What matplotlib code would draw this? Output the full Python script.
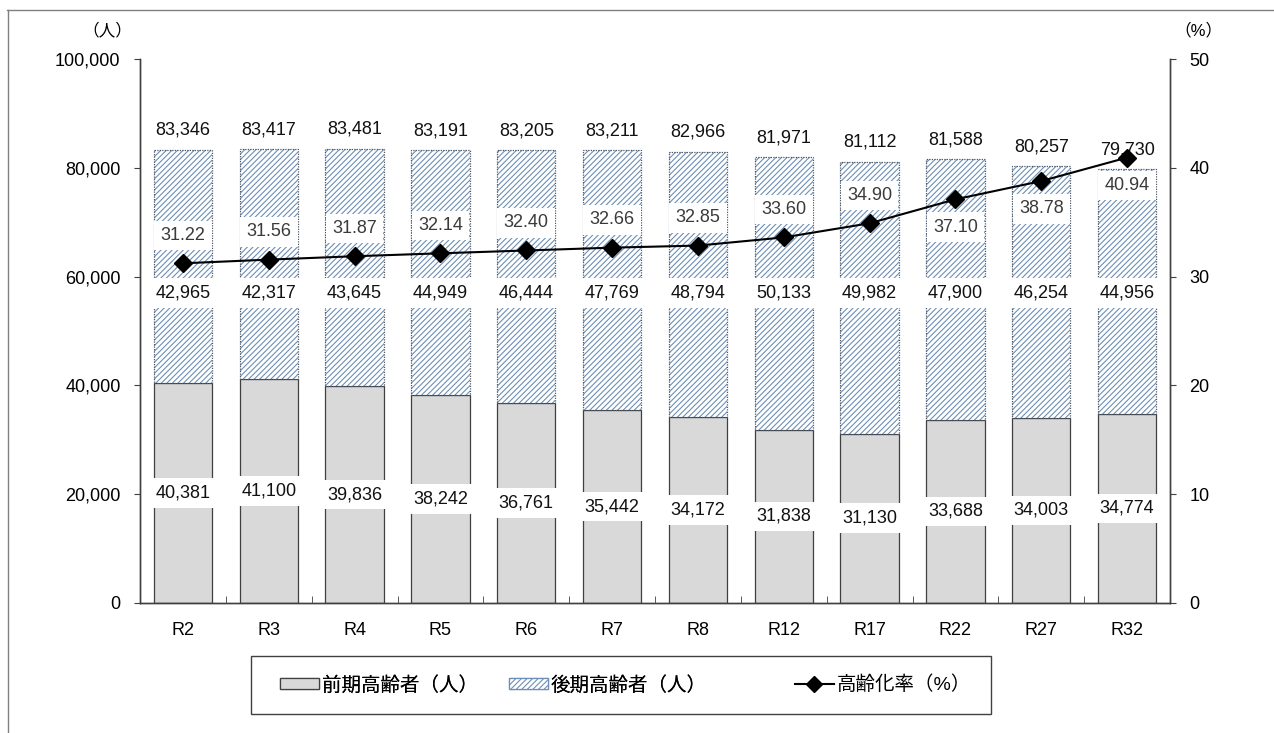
import numpy as np
import matplotlib
matplotlib.use('Agg')
import matplotlib.pyplot as plt
from matplotlib.lines import Line2D
from matplotlib.patches import Patch, Rectangle

plt.rcParams['font.family'] = ['Liberation Sans', 'Noto Sans CJK JP']
plt.rcParams['hatch.linewidth'] = 0.8

# 年度別 高齢者数と高齢化率
years = ['R2', 'R3', 'R4', 'R5', 'R6', 'R7', 'R8', 'R12', 'R17', 'R22', 'R27', 'R32']
early = [40381, 41100, 39836, 38242, 36761, 35442, 34172, 31838, 31130, 33688, 34003, 34774]
late = [42965, 42317, 43645, 44949, 46444, 47769, 48794, 50133, 49982, 47900, 46254, 44956]
rate = [31.22, 31.56, 31.87, 32.14, 32.40, 32.66, 32.85, 33.60, 34.90, 37.10, 38.78, 40.94]

early = np.array(early)
late = np.array(late)
total = early + late
x = np.arange(len(years))

W, H = 1274, 733
fig = plt.figure(figsize=(W / 100, H / 100), dpi=100)
ax = fig.add_axes([0.1099, 0.1774, 0.8085, 0.7421])
ax2 = ax.twinx()

gray = '#d9d9d9'
hatch_col = '#6d8fb5'
edge = '#404040'
w = 0.68

ax.bar(x, early, width=w, color=gray, edgecolor=edge, linewidth=0.9, zorder=2)
# 後期: 斜線は薄い青、枠は点線
ax.bar(x, late, bottom=early, width=w, color='white', edgecolor=hatch_col,
       hatch='//////', linewidth=0, zorder=2)
ax.bar(x, late, bottom=early, width=w, fill=False, edgecolor='#505a66',
       linewidth=0.9, linestyle=(0, (1, 1)), zorder=3)

fs = 13
box = dict(boxstyle='square,pad=0.35', fc='white', ec='none')

for i in x:
    ax.text(i, early[i] / 2, f'{early[i]:,}', ha='center', va='center',
            fontsize=fs, color='#111111', bbox=box, zorder=5)
    ax.text(i, 57000, f'{late[i]:,}', ha='center', va='center',
            fontsize=fs, color='#111111', bbox=box, zorder=5)
    ax.annotate(f'{total[i]:,}', (i, total[i]), xytext=(0, 14),
                textcoords='offset points', ha='center', va='center',
                fontsize=fs, color='#111111', zorder=5)

ax.set_ylim(0, 100000)
ax.set_xlim(-0.5, len(years) - 0.5)
ax.set_yticks(np.arange(0, 100001, 20000))
ax.set_yticklabels([f'{v:,}' for v in range(0, 100001, 20000)])
ax.set_xticks(x)
ax.set_xticklabels(years)
ax.set_xticks(x[:-1] + 0.5, minor=True)
ax.tick_params(axis='x', which='major', length=0, pad=14, labelsize=fs)
ax.tick_params(axis='x', which='minor', direction='in', length=5, color=edge)
ax.tick_params(axis='y', direction='out', length=4, pad=10, labelsize=fs, color=edge)

ax2.plot(x, rate, color='black', lw=1.5, marker='D', markersize=9, zorder=6)
for i in x:
    dy = 20 if i < 9 else -20
    ax2.annotate(f'{rate[i]:.2f}', (i, rate[i]), xytext=(0, dy),
                 textcoords='offset points', ha='center', va='center',
                 fontsize=fs, color='#3a3a3a', bbox=box, zorder=4)
ax2.set_ylim(0, 50)
ax2.set_yticks(np.arange(0, 51, 10))
ax2.tick_params(axis='y', direction='out', length=4, pad=10, labelsize=fs, color=edge)

for a in (ax, ax2):
    a.spines['top'].set_visible(False)
    for s in a.spines.values():
        s.set_color(edge)
        s.set_linewidth(1)
ax2.patch.set_visible(False)

fig.text(107 / W, 1 - 30 / H, '（人）', ha='center', va='center', fontsize=12)
fig.text(1198 / W, 1 - 30 / H, '（%）', ha='center', va='center', fontsize=12)

# 凡例（枠は別に描く）
fig.add_artist(Rectangle((251 / W, 1 - 714 / H), 740 / W, 58 / H,
                         transform=fig.transFigure, fill=False,
                         edgecolor=edge, lw=1))
leg_kw = dict(fontsize=14, frameon=False, borderpad=0, borderaxespad=0,
              handlelength=2.0, handleheight=0.55, handletextpad=0.15)
bar_handles = [
    Patch(facecolor=gray, edgecolor=edge, linewidth=0.9),
    Patch(facecolor='white', edgecolor=hatch_col, hatch='//////', linewidth=0.9),
]
leg1 = fig.legend(bar_handles, ['前期高齢者（人）', '後期高齢者（人）'], ncol=2,
                  loc='center left', bbox_to_anchor=(280 / W, 1 - 685 / H),
                  columnspacing=1.6, **leg_kw)
fig.add_artist(leg1)
line_handle = Line2D([], [], color='black', lw=1.5, marker='D', markersize=8)
fig.legend([line_handle], ['高齢化率（%）'], loc='center left',
           bbox_to_anchor=(795 / W, 1 - 685 / H), **leg_kw)

# 外枠（上・左）
fig.add_artist(Line2D([7 / W, 1], [1 - 10 / H, 1 - 10 / H],
                      color='#808080', lw=1, transform=fig.transFigure))
fig.add_artist(Line2D([8 / W, 8 / W], [0, 1 - 10 / H],
                      color='#808080', lw=1, transform=fig.transFigure))

fig.savefig('out.png', dpi=100, facecolor='white')
